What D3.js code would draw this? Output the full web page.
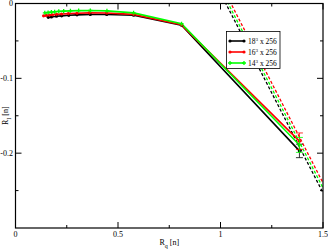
<!DOCTYPE html>
<html><head><meta charset="utf-8">
<script src="https://cdn.jsdelivr.net/npm/d3@7"></script>
<style>body{margin:0;background:#fff}svg{display:block}text{font-family:"Liberation Serif","Times New Roman",serif;fill:#000}</style>
</head><body><svg id="c" width="328" height="250"></svg>
<script>
// ---- data ----
const seriesNames = ["18", "16", "14"];
const seriesColors = ["#000000", "#ff0000", "#00ff00"];
const xBlack = [0.16, 0.175, 0.2, 0.225, 0.26, 0.3, 0.365, 0.445, 0.576, 0.81, 1.385];
const yBlack = [-0.0185, -0.018, -0.017, -0.0165, -0.0158, -0.0152, -0.0147, -0.0147, -0.0157, -0.029, -0.197];
const xRed = [0.137, 0.15, 0.165, 0.18, 0.2, 0.225, 0.258, 0.3, 0.36, 0.445, 0.576, 0.81, 1.385];
const yRed = [-0.0165, -0.016, -0.0155, -0.015, -0.0145, -0.014, -0.0135, -0.013, -0.0125, -0.0127, -0.0145, -0.0285, -0.184];
const xGreen = [0.143, 0.159, 0.175, 0.191, 0.211, 0.235, 0.268, 0.308, 0.365, 0.446, 0.576, 0.81, 1.385];
const yGreen = [-0.0125, -0.012, -0.0115, -0.011, -0.0105, -0.0102, -0.0098, -0.0095, -0.0093, -0.0098, -0.0125, -0.027, -0.189];
const errLast = [0.009, 0.011, 0.01];
// linear fits (dashed): value at x=1.0 and at x=1.5
const fitX = [1.0, 1.5];
const fitBlack = [0.0139, -0.253];
const fitRed = [0.0272, -0.2398];
const fitGreen = [0.020, -0.2465];
const xTicks = [0, 0.5, 1, 1.5];
const xTickLabels = ["0", "0.5", "1", "1.5"];
const xMinor = [0.25, 0.75, 1.25];
const yTicks = [0, -0.1, -0.2];
const yTickLabels = ["0", "-0.1", "-0.2"];
const yMinor = [-0.05, -0.15, -0.25];

// ---- layout ----
const L = 15.5, R = 323, T = 3.5, B = 228;
const svg = d3.select("#c");
const x = d3.scaleLinear().domain([0, 1.5]).range([L, R]);
const y = d3.scaleLinear().domain([-0.3, 0]).range([B, T]);

svg.append("defs").append("clipPath").attr("id", "clip")
  .append("rect").attr("x", L).attr("y", T).attr("width", R - L).attr("height", B - T);

const series = [
  {xs: xBlack, ys: yBlack, fit: fitBlack},
  {xs: xRed, ys: yRed, fit: fitRed},
  {xs: xGreen, ys: yGreen, fit: fitGreen}
];

const plot = svg.append("g").attr("clip-path", "url(#clip)");
const line = d3.line().x(d => x(d[0])).y(d => y(d[1]));

// dashed fits
series.forEach((s, i) => {
  plot.append("path").datum(fitX.map((v, k) => [v, s.fit[k]]))
    .attr("d", line).attr("fill", "none").attr("stroke", seriesColors[i])
    .attr("stroke-width", 1.3).attr("stroke-dasharray", "3,2");
});

// solid series
series.forEach((s, i) => {
  const pts = s.xs.map((v, k) => [v, s.ys[k]]);
  plot.append("path").datum(pts).attr("d", line).attr("fill", "none")
    .attr("stroke", seriesColors[i]).attr("stroke-width", 1.6);
});
// markers & error bars
series.forEach((s, i) => {
  const pts = s.xs.map((v, k) => [v, s.ys[k]]);
  const g = plot.append("g");
  if (i === 2) {
    g.selectAll("path.m").data(pts).enter().append("path")
      .attr("transform", d => `translate(${x(d[0])},${y(d[1])})`)
      .attr("d", d3.symbol(d3.symbolCross, 9)).attr("fill", seriesColors[i]);
  } else {
    g.selectAll("circle").data(pts).enter().append("circle")
      .attr("cx", d => x(d[0])).attr("cy", d => y(d[1])).attr("r", 1.6)
      .attr("fill", seriesColors[i]);
  }
  const last = pts[pts.length - 1];
  const e = errLast[i];
  const cx = x(last[0]);
  g.append("line").attr("x1", cx).attr("x2", cx).attr("y1", y(last[1] - e)).attr("y2", y(last[1] + e))
    .attr("stroke", seriesColors[i]).attr("stroke-width", 0.8);
  [last[1] - e, last[1] + e].forEach(v => {
    g.append("line").attr("x1", cx - 3.5).attr("x2", cx + 3.5).attr("y1", y(v)).attr("y2", y(v))
      .attr("stroke", seriesColors[i]).attr("stroke-width", 0.8);
  });
});

// frame
svg.append("rect").attr("x", L).attr("y", T).attr("width", R - L).attr("height", B - T)
  .attr("fill", "none").attr("stroke", "#000").attr("stroke-width", 1.2);

// ticks (inward, all sides)
const tk = svg.append("g").attr("stroke", "#000").attr("stroke-width", 1);
xTicks.forEach(v => {
  tk.append("line").attr("x1", x(v)).attr("x2", x(v)).attr("y1", B).attr("y2", B - 6);
  tk.append("line").attr("x1", x(v)).attr("x2", x(v)).attr("y1", T).attr("y2", T + 6);
});
xMinor.forEach(v => {
  tk.append("line").attr("x1", x(v)).attr("x2", x(v)).attr("y1", B).attr("y2", B - 3);
  tk.append("line").attr("x1", x(v)).attr("x2", x(v)).attr("y1", T).attr("y2", T + 3);
});
yTicks.forEach(v => {
  tk.append("line").attr("x1", L).attr("x2", L + 6).attr("y1", y(v)).attr("y2", y(v));
  tk.append("line").attr("x1", R).attr("x2", R - 6).attr("y1", y(v)).attr("y2", y(v));
});
yMinor.forEach(v => {
  tk.append("line").attr("x1", L).attr("x2", L + 3).attr("y1", y(v)).attr("y2", y(v));
  tk.append("line").attr("x1", R).attr("x2", R - 3).attr("y1", y(v)).attr("y2", y(v));
});

// tick labels
xTicks.forEach((v, i) => {
  svg.append("text").attr("x", x(v)).attr("y", 237).attr("text-anchor", "middle")
    .attr("font-size", 8).text(xTickLabels[i]);
});
yTicks.forEach((v, i) => {
  svg.append("text").attr("x", 13).attr("y", y(v)).attr("dy", "0.33em").attr("text-anchor", "end")
    .attr("font-size", 8).text(yTickLabels[i]);
});

// axis labels
const xl = svg.append("text").attr("x", (L + R) / 2).attr("y", 245).attr("text-anchor", "middle").attr("font-size", 8);
xl.append("tspan").text("R");
xl.append("tspan").attr("font-size", 6).attr("dy", 3).text("q");
xl.append("tspan").attr("dy", -3).text(" [n]");

const yl = svg.append("text").attr("transform", `translate(8,${(T + B) / 2}) rotate(-90)`)
  .attr("text-anchor", "middle").attr("font-size", 8);
yl.append("tspan").text("R");
yl.append("tspan").attr("font-size", 6).attr("dy", 3).text("I");
yl.append("tspan").attr("dy", -3).text(" [n]");

// legend
const lg = svg.append("g");
lg.append("rect").attr("x", 226.5).attr("y", 31.5).attr("width", 53.5).attr("height", 37)
  .attr("fill", "#fff").attr("stroke", "#000").attr("stroke-width", 0.8);
seriesNames.forEach((n, i) => {
  const yy = 41 + i * 11;
  lg.append("line").attr("x1", 230).attr("x2", 244).attr("y1", yy).attr("y2", yy)
    .attr("stroke", seriesColors[i]).attr("stroke-width", 1.6);
  [230, 244].forEach(xx => {
    if (i === 2) {
      lg.append("path").attr("transform", `translate(${xx},${yy})`)
        .attr("d", d3.symbol(d3.symbolCross, 9)).attr("fill", seriesColors[i]);
    } else {
      lg.append("circle").attr("cx", xx).attr("cy", yy).attr("r", 1.6).attr("fill", seriesColors[i]);
    }
  });
  const t = lg.append("text").attr("x", 248).attr("y", yy + 2.5).attr("font-size", 7.5);
  t.append("tspan").text(n);
  t.append("tspan").attr("font-size", 5).attr("dy", -3).text("3");
  t.append("tspan").attr("dy", 3).text(" x 256");
});
</script></body></html>
